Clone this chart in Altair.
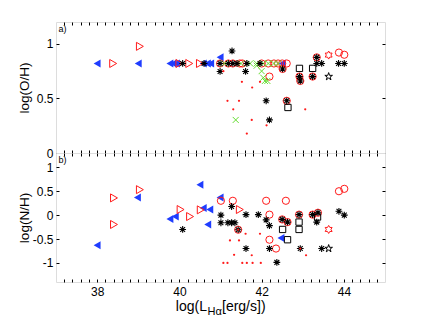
import altair as alt
import pandas as pd

# ---------------- axes ----------------
X_DOMAIN = [37, 45]
X_MAJOR = [38, 40, 42, 44]
X_MINOR_STEP = 0.2
OH_DOMAIN = [0, 1.2]
OH_TICKS = [0, 0.5, 1]
NH_DOMAIN = [-1.4, 1.3]
NH_TICKS = [-1, -0.5, 0, 0.5, 1]

# ---------------- panel a) log(O/H) ----------------
oh_blue_x = [38.0, 39.0, 39.77, 39.85, 39.93, 40.58, 40.68, 40.76, 40.99, 42.5]
oh_blue_y = [0.82, 0.82, 0.82, 0.82, 0.82, 0.82, 0.82, 0.82, 0.876, 0.82]

oh_rtri_x = [38.39, 39.04, 40.0, 40.24, 40.5]
oh_rtri_y = [0.82, 0.977, 0.82, 0.82, 0.82]

oh_circ_x = [40.99, 41.19, 41.3, 41.47, 41.53, 42.0, 42.16, 42.3, 42.4, 42.5, 42.61,
             42.19, 42.51, 42.61, 42.92, 42.94, 43.24, 43.34, 43.88, 44.01]
oh_circ_y = [0.82, 0.82, 0.82, 0.82, 0.82, 0.82, 0.82, 0.82, 0.82, 0.82, 0.82,
             0.70, 0.77, 0.478, 0.70, 0.66, 0.70, 0.876, 0.92, 0.90]

oh_sq_x = [42.92, 43.24, 42.64]
oh_sq_y = [0.775, 0.775, 0.417]

oh_gx_x = [41.1, 41.5, 41.72, 41.88, 41.88, 42.04, 42.16, 42.3, 42.4, 42.0, 42.04, 42.08, 42.14, 41.37]
oh_gx_y = [0.82, 0.82, 0.82, 0.82, 0.80, 0.82, 0.82, 0.82, 0.82, 0.75, 0.69, 0.66, 0.66, 0.303]

oh_ast_x = [40.08, 40.6, 40.99, 40.99, 41.19, 41.28, 41.3, 41.4, 41.61, 41.64, 41.96,
            42.11, 42.19, 42.51, 42.61, 42.92, 42.94, 43.24, 43.34, 43.34, 43.46, 43.87, 44.01]
oh_ast_y = [0.82, 0.82, 0.82, 0.747, 0.82, 0.935, 0.82, 0.82, 0.747, 0.82, 0.82,
            0.478, 0.303, 0.77, 0.478, 0.70, 0.66, 0.70, 0.876, 0.82, 0.82, 0.82, 0.82]

oh_dot_x = [41.07, 41.17, 41.45, 41.31, 41.52, 41.77, 41.96, 41.76, 42.12, 41.64, 43.06]
oh_dot_y = [0.75, 0.478, 0.478, 0.40, 0.652, 0.60, 0.652, 0.303, 0.254, 0.178, 0.40]

oh_pent_x = [43.63]
oh_pent_y = [0.70]
oh_hex_x = [43.63]
oh_hex_y = [0.897]

# ---------------- panel b) log(N/H) ----------------
nh_blue_x = [38.0, 38.98, 39.77, 39.9, 40.5, 40.58, 40.74, 40.69, 40.99, 42.47]
nh_blue_y = [-0.633, 0.367, -0.08, -0.03, 0.637, 0.15, 0.117, -0.196, 0.367, -0.48]

nh_rtri_x = [38.41, 38.41, 39.04, 40.03, 40.26, 40.52, 41.47]
nh_rtri_y = [0.36, -0.196, 0.533, 0.117, -0.03, 0.11, 0.117]

nh_circ_x = [41.01, 41.3, 42.11, 42.59, 42.19, 42.5, 42.63, 42.91, 43.24, 43.37,
             42.19, 42.35, 41.43, 43.88, 44.01]
nh_circ_y = [0.30, 0.30, 0.30, 0.30, 0.01, -0.09, -0.146, 0.01, 0.01, 0.05,
             -0.515, -0.70, -0.306, 0.50, 0.55]

nh_sq_x = [42.51, 42.91, 42.91, 42.63, 43.36]
nh_sq_y = [-0.30, -0.146, -0.30, -0.515, -0.04]

nh_ast_x = [40.08, 41.01, 41.01, 41.27, 41.18, 41.27, 41.35, 41.43, 41.62, 41.92, 42.11, 42.19,
            42.5, 42.63, 42.91, 43.24, 43.37, 43.34, 43.88, 44.01, 41.62, 42.19, 42.37, 42.94, 43.46]
nh_ast_y = [-0.3, 0.0, -0.16, 0.18, -0.16, -0.16, -0.16, -0.306, 0.01, 0.01, -0.1, -0.22,
            -0.09, -0.146, 0.01, 0.01, 0.05, -0.146, 0.08, 0.0, -0.70, -0.70, -0.99, -0.70, -0.70]

nh_dot_x = [41.23, 41.45, 41.61, 41.96, 41.33, 41.76, 43.08, 41.07, 41.17, 41.53, 41.64,
            41.78, 41.98, 42.94, 41.43]
nh_dot_y = [-0.53, -0.53, -0.39, -0.39, -0.83, -0.84, -0.84, -1.0, -1.0, -1.0, -1.0,
            -1.0, -1.0, -0.70, -0.306]

nh_pent_x = [43.63]
nh_pent_y = [-0.70]
nh_hex_x = [43.63]
nh_hex_y = [-0.30]

# ---------------- styles ----------------
BLUE = "#1f3dff"
RED = "#ff1a1a"
GREEN = "#66dd33"
FONT = "Liberation Sans"

ASTER = "M-1,0L1,0M0,-1L0,1M-0.71,-0.71L0.71,0.71M-0.71,0.71L0.71,-0.71"
XMARK = "M-1,-1L1,1M-1,1L1,-1"
PENTA = ("M0,-1L0.225,-0.309L0.951,-0.309L0.363,0.118L0.588,0.809L0,0.382"
         "L-0.588,0.809L-0.363,0.118L-0.951,-0.309L-0.225,-0.309Z")
HEXA = ("M0,-1L0.289,-0.5L0.866,-0.5L0.577,0L0.866,0.5L0.289,0.5L0,1"
        "L-0.289,0.5L-0.866,0.5L-0.577,0L-0.866,-0.5L-0.289,-0.5Z")

STYLE = {
    "blue": dict(shape="triangle-left", filled=True, color=BLUE, size=64, opacity=1),
    "rtri": dict(shape="triangle-right", filled=False, color=RED, size=64, strokeWidth=1, opacity=1),
    "circ": dict(shape="circle", filled=False, color=RED, size=52, strokeWidth=1, opacity=1),
    "sq": dict(shape="square", filled=False, color="black", size=40, strokeWidth=1, opacity=1),
    "gx": dict(shape=XMARK, filled=False, color=GREEN, size=36, strokeWidth=1, opacity=1),
    "ast": dict(shape=ASTER, filled=False, color="black", size=46, strokeWidth=1.1, opacity=1),
    "dot": dict(shape="circle", filled=True, color=RED, size=5, opacity=1),
    "pent": dict(shape=PENTA, filled=False, color="black", size=64, strokeWidth=1, opacity=1),
    "hex": dict(shape=HEXA, filled=False, color=RED, size=64, strokeWidth=1, opacity=1),
}

W = 329
XTICKS = [round(X_DOMAIN[0] + X_MINOR_STEP * i, 1)
          for i in range(1, int(round((X_DOMAIN[1] - X_DOMAIN[0]) / X_MINOR_STEP)))]
XLABEL_EXPR = "abs(datum.value - 2*round(datum.value/2)) < 0.01 ? '' + round(datum.value) : ''"


def panel(series, ydom, yticks, ytitle, height, show_xlabels, tag):
    xs = alt.Scale(domain=X_DOMAIN, nice=False, zero=False)
    ys = alt.Scale(domain=ydom, nice=False, zero=False)
    layers = []
    for key, xv, yv in series:
        df = pd.DataFrame({"x": xv, "y": yv})
        layers.append(
            alt.Chart(df).mark_point(**STYLE[key]).encode(
                x=alt.X("x:Q", scale=xs, axis=None),
                y=alt.Y("y:Q", scale=ys, axis=None),
            )
        )
    axdf = pd.DataFrame({"x": [X_DOMAIN[0]], "y": [ydom[0]]})
    common = dict(domain=False, grid=False, tickSize=3, offset=-3, tickColor="black",
                  labelColor="black", labelFont=FONT, labelFontSize=12,
                  labelOverlap=False, labelFlush=False)
    bl = alt.Chart(axdf).mark_point(opacity=0).encode(
        x=alt.X("x:Q", scale=xs, axis=alt.Axis(
            orient="bottom", values=XTICKS, labels=show_xlabels, labelExpr=XLABEL_EXPR,
            labelPadding=4, title=None, **common)),
        y=alt.Y("y:Q", scale=ys, axis=alt.Axis(
            orient="left", values=yticks, labelExpr="'' + datum.value", labelPadding=3,
            title=ytitle, titleX=-35, titleY=height / 2, titleAngle=270,
            titleBaseline="middle", titleAlign="center", titleFont=FONT,
            titleFontSize=13.5, titleFontWeight="normal", titleColor="black", **common)),
    )
    tr = alt.Chart(axdf).mark_point(opacity=0).encode(
        x=alt.X("x:Q", scale=xs, axis=alt.Axis(
            orient="top", values=XTICKS, labels=False, title=None, **common)),
        y=alt.Y("y:Q", scale=ys, axis=alt.Axis(
            orient="right", values=yticks, labels=False, title=None, **common)),
    )
    lab = alt.Chart(pd.DataFrame({"t": [tag]})).mark_text(
        align="left", baseline="top", font=FONT, fontSize=9, color="black"
    ).encode(x=alt.value(2.5), y=alt.value(3), text="t:N")
    return [bl, tr] + layers + [lab]


top_series = [
    ("blue", oh_blue_x, oh_blue_y), ("rtri", oh_rtri_x, oh_rtri_y),
    ("circ", oh_circ_x, oh_circ_y), ("sq", oh_sq_x, oh_sq_y),
    ("gx", oh_gx_x, oh_gx_y), ("ast", oh_ast_x, oh_ast_y),
    ("dot", oh_dot_x, oh_dot_y), ("pent", oh_pent_x, oh_pent_y), ("hex", oh_hex_x, oh_hex_y),
]
bot_series = [
    ("blue", nh_blue_x, nh_blue_y), ("rtri", nh_rtri_x, nh_rtri_y),
    ("circ", nh_circ_x, nh_circ_y), ("sq", nh_sq_x, nh_sq_y),
    ("ast", nh_ast_x, nh_ast_y), ("dot", nh_dot_x, nh_dot_y),
    ("pent", nh_pent_x, nh_pent_y), ("hex", nh_hex_x, nh_hex_y),
]

H_TOP = 131
H_BOT = 129

top = alt.layer(*panel(top_series, OH_DOMAIN, OH_TICKS, "log(O/H)", H_TOP, False, "a)")) \
    .resolve_axis(x="independent", y="independent").properties(width=W, height=H_TOP)

title_parts = [
    ("log(L", 151, 158, 14, "right"),
    ("Hα", 151.5, 162, 11, "left"),
    ("[erg/s])", 166, 158, 14, "left"),
]
title_layers = [
    alt.Chart(pd.DataFrame({"t": [t]})).mark_text(
        align=al, baseline="alphabetic", font=FONT, fontSize=fs, color="black"
    ).encode(x=alt.value(px), y=alt.value(py), text="t:N")
    for t, px, py, fs, al in title_parts
]

bot = alt.layer(*(panel(bot_series, NH_DOMAIN, NH_TICKS, "log(N/H)", H_BOT, True, "b)") + title_layers)) \
    .resolve_axis(x="independent", y="independent").properties(width=W, height=H_BOT)

chart = alt.vconcat(top, bot, spacing=0, bounds="flush").properties(
    padding={"left": 8, "top": 13, "right": 5, "bottom": 0}
).configure_view(stroke="black", strokeWidth=1).configure(background="white")

chart.save("out.html", embed_options={"renderer": "svg", "actions": False})
